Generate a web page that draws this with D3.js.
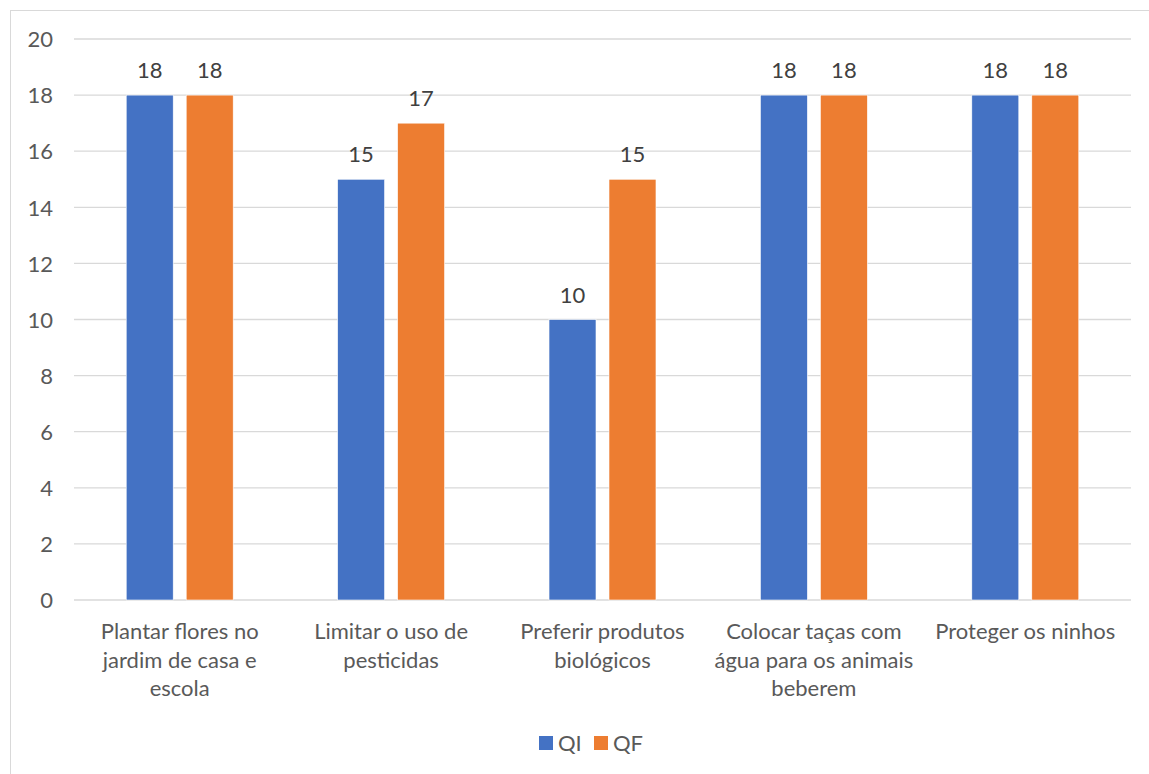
<!DOCTYPE html>
<html>
<head>
<meta charset="utf-8">
<script src="https://cdn.jsdelivr.net/npm/d3@7"></script>
<style>
  html, body { margin: 0; padding: 0; background: #fff; }
  svg { display: block; font-family: Lato, "Open Sans", sans-serif; }
</style>
</head>
<body>
<svg id="chart" width="1149" height="774"></svg>
<script>
// Categories (multi-line labels as shown under each group)
const categories = [
  "Plantar flores no jardim de casa e escola",
  "Limitar o uso de pesticidas",
  "Preferir produtos biológicos",
  "Colocar taças com água para os animais beberem",
  "Proteger os ninhos"
];
const categoryLines = [
  ["Plantar flores no", "jardim de casa e", "escola"],
  ["Limitar o uso de", "pesticidas"],
  ["Preferir produtos", "biológicos"],
  ["Colocar taças com", "água para os animais", "beberem"],
  ["Proteger os ninhos"]
];
const seriesNames = ["QI", "QF"];
const valuesQI = [18, 15, 10, 18, 18];
const valuesQF = [18, 17, 15, 18, 18];
const yTicks = [0, 2, 4, 6, 8, 10, 12, 14, 16, 18, 20];
const colors = ["#4472C4", "#ED7D31"];

const FS = 22;
const svg = d3.select("#chart");

// outer chart frame
svg.append("rect")
  .attr("x", 10.5).attr("y", 10.5)
  .attr("width", 1160).attr("height", 780)
  .attr("fill", "#fff").attr("stroke", "#d9d9d9").attr("stroke-width", 1);

const plot = { left: 74, right: 1131, top: 39, bottom: 600 };

const y = d3.scaleLinear().domain([0, 20]).range([plot.bottom, plot.top]);

const x0 = d3.scaleBand()
  .domain(categories)
  .range([plot.left, plot.right])
  .paddingInner(0.494)
  .paddingOuter(0.247);

const x1 = d3.scaleBand()
  .domain(seriesNames)
  .range([0, x0.bandwidth()])
  .paddingInner(0.2167)
  .paddingOuter(0);

// gridlines
svg.append("g")
  .selectAll("line")
  .data(yTicks)
  .join("line")
  .attr("x1", plot.left).attr("x2", plot.right)
  .attr("y1", d => y(d)).attr("y2", d => y(d))
  .attr("stroke", "#d9d9d9").attr("stroke-width", 1.3);

// y-axis labels
const yAxis = d3.axisLeft(y).tickValues(yTicks).tickSize(0).tickPadding(0);
const gy = svg.append("g").attr("transform", `translate(53,0)`).call(yAxis);
gy.select(".domain").remove();
gy.selectAll("text")
  .attr("font-family", "Lato, 'Open Sans', sans-serif")
  .attr("font-size", FS).attr("fill", "#595959").attr("dy", "0.35em");

// bars
const rows = categories.map((c, i) => ({ cat: c, vals: [valuesQI[i], valuesQF[i]] }));
const groups = svg.append("g").selectAll("g")
  .data(rows).join("g")
  .attr("transform", d => `translate(${x0(d.cat)},0)`);

groups.selectAll("rect")
  .data(d => d.vals.map((v, k) => ({ key: seriesNames[k], v, k })))
  .join("rect")
  .attr("x", d => x1(d.key))
  .attr("y", d => y(d.v))
  .attr("width", x1.bandwidth())
  .attr("height", d => y(0) - y(d.v))
  .attr("fill", d => colors[d.k])
  .attr("stroke", "#fff").attr("stroke-width", 0.6);

// value labels
groups.selectAll("text.val")
  .data(d => d.vals.map((v, k) => ({ key: seriesNames[k], v, k })))
  .join("text")
  .attr("class", "val")
  .attr("x", d => x1(d.key) + x1.bandwidth() / 2)
  .attr("y", d => y(d.v) - 17)
  .attr("text-anchor", "middle")
  .attr("font-size", FS)
  .attr("fill", "#404040")
  .text(d => d.v);

// category labels
const xl = svg.append("g").selectAll("text")
  .data(categories).join("text")
  .attr("x", d => x0(d) + x0.bandwidth() / 2)
  .attr("y", 639)
  .attr("text-anchor", "middle")
  .attr("font-size", FS)
  .attr("fill", "#595959");
xl.each(function(d, i) {
  d3.select(this).selectAll("tspan")
    .data(categoryLines[i]).join("tspan")
    .attr("x", x0(d) + x0.bandwidth() / 2)
    .attr("dy", (t, j) => j === 0 ? 0 : 28.5)
    .text(t => t);
});

// legend
const legend = svg.append("g").attr("transform", "translate(539,736)");
const items = legend.selectAll("g").data(seriesNames).join("g")
  .attr("transform", (d, i) => `translate(${i * 55},0)`);
items.append("rect").attr("width", 14).attr("height", 14)
  .attr("fill", (d, i) => colors[i]);
items.append("text").attr("x", 19).attr("y", 7).attr("dy", "0.35em")
  .attr("font-size", FS).attr("fill", "#595959").text(d => d);
</script>
</body>
</html>
